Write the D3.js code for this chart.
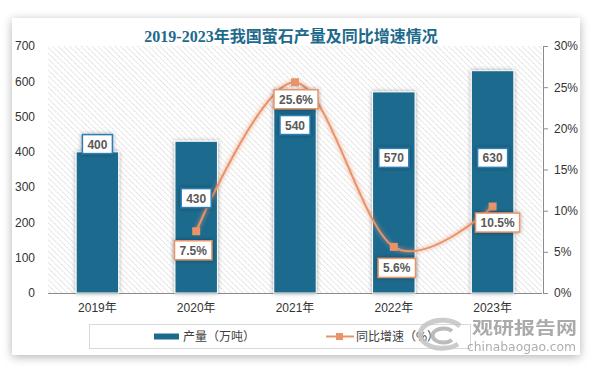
<!DOCTYPE html>
<html>
<head>
<meta charset="utf-8">
<script src="https://cdn.jsdelivr.net/npm/d3@7"></script>
<style>
  body { margin: 0; background: #ffffff; }
  svg { display: block; }
</style>
</head>
<body>
<div id="chart"></div>
<script>
// data
const years = ["2019年", "2020年", "2021年", "2022年", "2023年"];
const output = [400, 430, 540, 570, 630];          // 产量（万吨）
const growth = [null, 7.5, 25.6, 5.6, 10.5];       // 同比增速（%）
const leftTicks = [0, 100, 200, 300, 400, 500, 600, 700];
const rightTicks = [0, 5, 10, 15, 20, 25, 30];

const W = 592, H = 366;
const margin = { top: 46, right: 50, bottom: 73, left: 48 };
const BAR = "#1c6b8e", LINE = "#e9936b";
const FONT = "'Liberation Sans', Arial, 'Noto Sans CJK SC', sans-serif";

const svg = d3.select("#chart").append("svg")
  .attr("width", W).attr("height", H)
  .style("font-family", FONT);

const defs = svg.append("defs");
// diagonal hatch for plot area
const pat = defs.append("pattern")
  .attr("id", "hatch").attr("patternUnits", "userSpaceOnUse")
  .attr("width", 4).attr("height", 4)
  .attr("patternTransform", "rotate(-45)");
pat.append("rect").attr("width", 4).attr("height", 4).attr("fill", "#fff");
pat.append("line").attr("x1", 0).attr("y1", 0).attr("x2", 0).attr("y2", 4)
  .attr("stroke", "#c2c2c2").attr("stroke-width", 1.2).attr("stroke-dasharray", "1.2,0.8");

const shadow = defs.append("filter").attr("id", "shadow")
  .attr("x", "-30%").attr("y", "-30%").attr("width", "160%").attr("height", "160%");
shadow.append("feDropShadow").attr("dx", 0).attr("dy", 0).attr("stdDeviation", 2)
  .attr("flood-color", "#000").attr("flood-opacity", 0.35);

const cardShadow = defs.append("filter").attr("id", "cardShadow")
  .attr("x", "-10%").attr("y", "-10%").attr("width", "120%").attr("height", "120%");
cardShadow.append("feDropShadow").attr("dx", 0).attr("dy", 2).attr("stdDeviation", 5)
  .attr("flood-color", "#000").attr("flood-opacity", 0.3);

const glow = defs.append("filter").attr("id", "glow")
  .attr("x", "-20%").attr("y", "-20%").attr("width", "140%").attr("height", "140%");
glow.append("feGaussianBlur").attr("in", "SourceGraphic").attr("stdDeviation", 2).attr("result", "b");
const gm = glow.append("feMerge");
gm.append("feMergeNode").attr("in", "b");
gm.append("feMergeNode").attr("in", "SourceGraphic");

// card
svg.append("rect")
  .attr("x", 12).attr("y", 18).attr("width", 568).attr("height", 337)
  .attr("fill", "#fff").attr("filter", "url(#cardShadow)");

// title
svg.append("text")
  .attr("x", 291).attr("y", 42)
  .attr("text-anchor", "middle")
  .style("font-family", "'Liberation Serif', 'Noto Sans CJK SC', serif")
  .style("font-size", "16px").style("font-weight", "bold")
  .attr("fill", "#1d6a8c")
  .text("2019-2023年我国萤石产量及同比增速情况");

const x0 = margin.left, x1 = W - margin.right, y0 = H - margin.bottom, y1 = margin.top;

const x = d3.scaleBand().domain(years).range([x0, x1]);
const y = d3.scaleLinear().domain([0, 700]).range([y0, y1]);
const y2 = d3.scaleLinear().domain([0, 30]).range([y0, y1]);

// plot area
svg.append("rect")
  .attr("x", x0).attr("y", y1).attr("width", x1 - x0).attr("height", y0 - y1)
  .attr("fill", "url(#hatch)");

// left axis (labels only)
svg.append("g")
  .attr("transform", `translate(${x0 - 13},0)`)
  .call(d3.axisLeft(y).tickValues(leftTicks).tickSize(0).tickPadding(0))
  .call(g => g.select(".domain").remove())
  .selectAll("text")
  .style("font-family", FONT).style("font-size", "12px").attr("fill", "#333");

// right axis
svg.append("g")
  .attr("transform", `translate(${x1 + 1},0)`)
  .call(d3.axisRight(y2).tickValues(rightTicks).tickSize(5).tickSizeOuter(0)
    .tickPadding(6).tickFormat(d => d + "%"))
  .call(g => g.select(".domain").attr("stroke", "#8c8c8c"))
  .call(g => g.selectAll("line").attr("stroke", "#8c8c8c"))
  .selectAll("text")
  .style("font-family", FONT).style("font-size", "12px").attr("fill", "#333");

// x axis
svg.append("g")
  .attr("transform", `translate(0,${y0})`)
  .call(d3.axisBottom(x).tickSize(0).tickPadding(10))
  .call(g => g.select(".domain").attr("stroke", "#8c8c8c").attr("d", `M${x0},0.5H${x1}`))
  .selectAll("text")
  .style("font-family", FONT).style("font-size", "12px").attr("fill", "#333");

// bars
const bw = x.bandwidth() * 0.43;
const cx = d => x(d) + x.bandwidth() / 2;
svg.append("g").selectAll("rect")
  .data(years.map((yr, i) => ({ yr, v: output[i] })))
  .join("rect")
  .attr("x", d => cx(d.yr) - bw / 2)
  .attr("width", bw)
  .attr("y", d => y(d.v))
  .attr("height", d => y0 - y(d.v))
  .attr("fill", BAR)
  .attr("stroke", "#fff").attr("stroke-width", 1)
  .attr("filter", "url(#shadow)");

// line
const pts = years.map((yr, i) => ({ yr, v: growth[i] })).filter(d => d.v != null);
const line = d3.line()
  .x(d => cx(d.yr))
  .y(d => y2(d.v))
  .curve(d3.curveCardinal.tension(0));
svg.append("path")
  .datum(pts)
  .attr("d", line)
  .attr("fill", "none")
  .attr("stroke", LINE).attr("stroke-width", 2)
  .attr("filter", "url(#glow)");
svg.append("g").selectAll("rect")
  .data(pts)
  .join("rect")
  .attr("x", d => cx(d.yr) - 4).attr("y", d => y2(d.v) - 4)
  .attr("width", 8).attr("height", 8)
  .attr("fill", LINE);

// labels (placement tweaks as in the source chart)
function label(g, xc, yc, txt, stroke) {
  const t = g.append("text")
    .attr("x", xc).attr("y", yc + 4.5)
    .attr("text-anchor", "middle")
    .style("font-family", FONT).style("font-size", "12px").style("font-weight", "bold")
    .attr("fill", "#595959").text(txt);
  const w = t.node().getComputedTextLength() + 10;
  g.insert("rect", "text:last-of-type")
    .attr("x", xc - w / 2).attr("y", yc - 9.5)
    .attr("width", w).attr("height", 19)
    .attr("fill", "#fff").attr("stroke", stroke).attr("stroke-width", 1.5)
    .attr("filter", "url(#shadow)");
}
const barLabelAt = [422, 269, 476, 383, 383];   // label centre on the left axis
const lineLabelDx = [0, -3, 1, 3, 5];
const lineLabelDy = [0, 19, 17, 21, 16];
years.forEach((yr, i) => {
  label(svg.append("g"), cx(yr), y(barLabelAt[i]), output[i], "#2a7db5");
});
years.forEach((yr, i) => {
  if (growth[i] == null) return;
  label(svg.append("g"), cx(yr) + lineLabelDx[i], y2(growth[i]) + lineLabelDy[i],
    growth[i].toFixed(1) + "%", LINE);
});

// legend
const lg = svg.append("g");
lg.append("rect")
  .attr("x", 89.5).attr("y", 324.5).attr("width", 381).attr("height", 24)
  .attr("fill", "none").attr("stroke", "#d9d9d9");
lg.append("rect").attr("x", 154).attr("y", 333.5).attr("width", 25).attr("height", 6).attr("fill", BAR);
lg.append("text").attr("x", 183).attr("y", 341)
  .style("font-size", "12px").attr("fill", "#404040")
  .style("font-family", "'Noto Sans CJK SC', sans-serif")
  .text("产量（万吨）");
lg.append("line").attr("x1", 326).attr("x2", 354).attr("y1", 336.5).attr("y2", 336.5)
  .attr("stroke", LINE).attr("stroke-width", 2);
lg.append("rect").attr("x", 336).attr("y", 333).attr("width", 7).attr("height", 7).attr("fill", LINE);
lg.append("text").attr("x", 356).attr("y", 341)
  .style("font-size", "12px").attr("fill", "#404040")
  .style("font-family", "'Noto Sans CJK SC', sans-serif")
  .text("同比增速（%）");

// watermark
const wm = svg.append("g").attr("opacity", 0.85);
wm.append("path")
  .attr("d", "M460,326 A22,14 0 1 0 458,344")
  .attr("fill", "none").attr("stroke", "#c4c4c4").attr("stroke-width", 5);
wm.append("path")
  .attr("d", "M452,331 A11,7 0 1 0 452,340")
  .attr("fill", "none").attr("stroke", "#b0b0b0").attr("stroke-width", 4);
wm.append("text").attr("x", 472).attr("y", 334)
  .attr("textLength", 105).attr("lengthAdjust", "spacingAndGlyphs")
  .style("font-family", "'Noto Sans CJK SC', sans-serif")
  .style("font-size", "17px").style("font-weight", "bold")
  .attr("fill", "#9c9c9c").text("观研报告网");
wm.append("text").attr("x", 467).attr("y", 351)
  .attr("textLength", 109).attr("lengthAdjust", "spacingAndGlyphs")
  .style("font-family", "'DejaVu Sans', sans-serif")
  .style("font-size", "13px")
  .attr("fill", "#a0a0a0").text("chinabaogao.com");
</script>
</body>
</html>
